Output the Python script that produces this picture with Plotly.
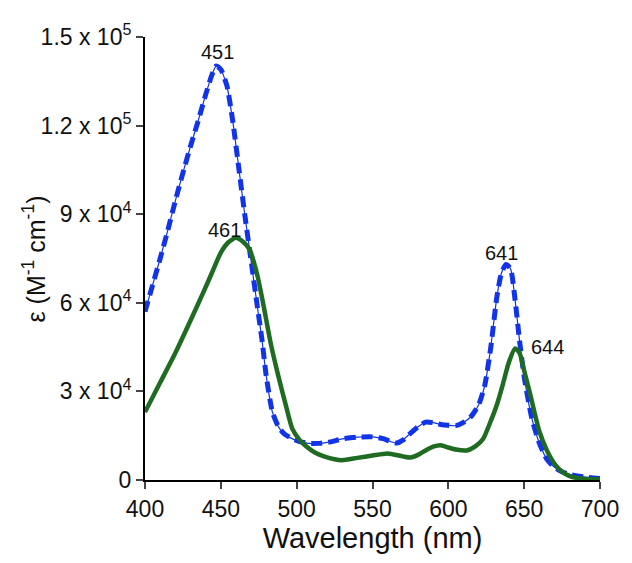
import plotly.graph_objects as go

# Blue (dashed) spectrum
blue_wl = [400, 405, 410, 415, 420, 425, 430, 435, 440, 444, 447, 450, 454, 458, 462,
           466, 470, 474, 477, 480, 484, 488, 492, 497, 502, 508, 515, 522, 530, 540,
           550, 557, 562, 566, 570, 575, 580, 585, 590, 595, 600, 605, 610, 615, 620,
           624, 628, 632, 635, 638, 641, 644, 647, 650, 655, 660, 665, 670, 675, 680,
           690, 700]
blue_eps = [57000, 66000, 75000, 84500, 94500, 104000, 113000, 121500, 130500, 137000,
            140200, 139000, 133500, 121000, 105000, 89000, 74000, 59000, 48000, 35000,
            23000, 18000, 15500, 14000, 13000, 12400, 12400, 12900, 13900, 14500,
            14600, 14000, 13000, 12500, 13500, 15800, 18000, 19600, 19400, 18800,
            18500, 18400, 19500, 21500, 25500, 32000, 45000, 62000, 70000, 73000,
            71500, 61000, 47000, 35000, 21000, 12500, 7000, 4300, 2800, 1900, 1000, 500]

# Green (solid) spectrum
green_wl = [400, 410, 420, 430, 438, 444, 450, 455, 460, 465, 469, 474, 478, 483, 488,
            493, 497, 502, 506, 512, 518, 525, 530, 540, 550, 560, 570, 575, 580, 585,
            590, 595, 600, 605, 612, 618, 623, 628, 632, 636, 640, 644, 647, 650, 654,
            660, 665, 670, 675, 680, 687, 700]
green_eps = [23000, 33000, 43000, 54000, 63000, 70000, 77000, 80500, 82000, 80500,
             78000, 69500, 59500, 46000, 35000, 25000, 17500, 13500, 11500, 9300,
             8000, 7000, 6700, 7500, 8300, 9000, 8000, 7600, 8500, 10000, 11300,
             11800, 11000, 10300, 10000, 11500, 14000, 20000, 25500, 32500, 40000,
             44500, 43000, 37000, 29000, 16500, 10000, 5500, 2800, 1300, 500, 200]

# Peak labels (placed beside their peaks)
peak_labels = ["451", "461", "641", "644"]
label_x = [447.5, 452.7, 635.2, 665.6]
label_y = [145000, 84800, 77000, 45200]

x_ticks = [400, 450, 500, 550, 600, 650, 700]
y_ticks = [0, 30000, 60000, 90000, 120000, 150000]
y_ticktext = ["0", "3 x 10<sup>4</sup>", "6 x 10<sup>4</sup>", "9 x 10<sup>4</sup>",
              "1.2 x 10<sup>5</sup>", "1.5 x 10<sup>5</sup>"]

BLUE = "#1234e8"
GREEN = "#1f6b22"
FONT = "Liberation Sans, Arial, sans-serif"

fig = go.Figure()
fig.add_trace(go.Scatter(x=blue_wl, y=blue_eps, mode="lines",
                         line=dict(color=BLUE, width=1.2, shape="spline", smoothing=0.6),
                         hoverinfo="skip", showlegend=False))
fig.add_trace(go.Scatter(x=blue_wl, y=blue_eps, mode="lines",
                         line=dict(color=BLUE, width=5, dash="11px,6px", shape="spline", smoothing=0.6),
                         showlegend=False))
fig.add_trace(go.Scatter(x=green_wl, y=green_eps, mode="lines",
                         line=dict(color=GREEN, width=4.5, shape="spline", smoothing=0.6),
                         showlegend=False))

for lab, x, y in zip(peak_labels, label_x, label_y):
    fig.add_annotation(x=x, y=y, text=lab, showarrow=False, xanchor="center", yanchor="middle",
                       font=dict(size=20, color="#111", family=FONT))

fig.add_annotation(xref="paper", yref="paper", x=-0.244, y=0.5, xanchor="center", yanchor="middle",
                   text="ε (M<sup>-1</sup> cm<sup>-1</sup>)", textangle=-90, showarrow=False,
                   font=dict(size=25, color="#111", family=FONT))

fig.update_layout(
    width=624, height=555,
    margin=dict(l=137, r=32, t=24, b=83),
    plot_bgcolor="white", paper_bgcolor="white",
    font=dict(family=FONT, color="#111"),
    xaxis=dict(range=[400, 700], tickvals=x_ticks, ticks="outside", ticklen=7, tickwidth=2,
               showline=True, linecolor="black", linewidth=2, showgrid=False, zeroline=False,
               tickfont=dict(size=23), title=dict(text="Wavelength (nm)", font=dict(size=29), standoff=0)),
    yaxis=dict(range=[0, 150000], tickvals=y_ticks, ticktext=y_ticktext, ticks="outside", ticklen=7,
               tickwidth=2, showline=True, linecolor="black", linewidth=2, showgrid=False, zeroline=False,
               tickfont=dict(size=23)),
)

fig.write_html("out.html")
